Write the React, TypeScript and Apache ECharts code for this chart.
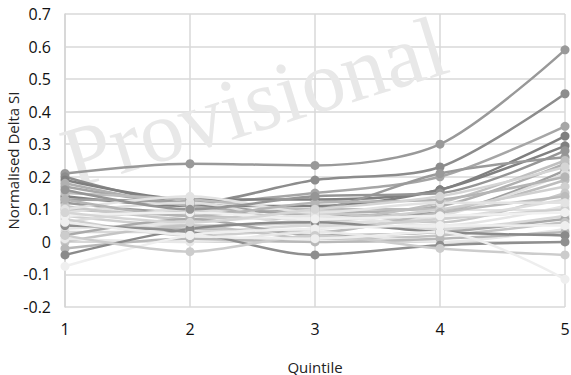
import React, { useEffect, useRef } from "react";
import * as echarts from "echarts";

const quintiles = ["1", "2", "3", "4", "5"];
const yTicks = { min: -0.2, max: 0.7, interval: 0.1 };

const s01 = [0.21, 0.24, 0.235, 0.30, 0.59];
const s02 = [0.20, 0.12, 0.19, 0.23, 0.455];
const s03 = [0.17, 0.12, 0.15, 0.20, 0.355];
const s04 = [0.19, 0.13, 0.13, 0.16, 0.325];
const s05 = [0.14, 0.11, 0.11, 0.16, 0.295];
const s06 = [0.12, 0.09, 0.10, 0.21, 0.26];
const s07 = [0.18, 0.11, 0.09, 0.11, 0.24];
const s08 = [0.13, 0.12, 0.08, 0.09, 0.22];
const s09 = [0.10, 0.08, 0.07, 0.12, 0.25];
const s10 = [0.15, 0.13, 0.10, 0.10, 0.19];
const s11 = [0.09, 0.12, 0.06, 0.08, 0.21];
const s12 = [0.08, 0.05, 0.06, 0.10, 0.17];
const s13 = [0.11, 0.07, 0.09, 0.06, 0.15];
const s14 = [0.06, 0.10, 0.05, 0.07, 0.13];
const s15 = [0.05, 0.04, 0.03, 0.09, 0.14];
const s16 = [0.04, 0.06, 0.08, 0.05, 0.11];
const s17 = [0.07, 0.02, 0.04, 0.07, 0.10];
const s18 = [0.03, 0.03, 0.05, 0.04, 0.08];
const s19 = [0.02, 0.07, 0.02, 0.03, 0.07];
const s20 = [0.00, 0.05, 0.01, 0.02, 0.06];
const s21 = [0.01, 0.00, 0.03, 0.00, 0.04];
const s22 = [-0.02, 0.01, 0.00, 0.01, 0.03];
const s23 = [-0.04, 0.04, 0.06, 0.03, 0.02];
const s24 = [0.05, 0.03, -0.04, -0.01, 0.00];
const s25 = [-0.075, 0.02, 0.04, 0.05, 0.05];
const s26 = [0.02, -0.03, 0.02, -0.02, -0.04];
const s27 = [0.06, 0.02, 0.01, 0.03, -0.115];
const s28 = [0.10, 0.14, 0.09, 0.12, 0.12];
const s29 = [0.13, 0.08, 0.12, 0.13, 0.20];
const s30 = [0.08, 0.09, 0.07, 0.08, 0.09];
const s31 = [0.16, 0.10, 0.14, 0.15, 0.28];
const s32 = [0.09, 0.06, 0.10, 0.14, 0.23];

const seriesData = [
  s01, s02, s03, s04, s05, s06, s07, s08, s09, s10, s11, s12, s13, s14, s15, s16,
  s17, s18, s19, s20, s21, s22, s23, s24, s25, s26, s27, s28, s29, s30, s31, s32,
];
const seriesColors = [
  "#999999", "#8c8c8c", "#a6a6a6", "#7f7f7f", "#808080", "#9a9a9a", "#b0b0b0", "#a0a0a0",
  "#c0c0c0", "#bdbdbd", "#e0e0e0", "#d0d0d0", "#c8c8c8", "#dcdcdc", "#bbbbbb", "#e5e5e5",
  "#cfcfcf", "#d8d8d8", "#aaaaaa", "#c4c4c4", "#e8e8e8", "#b8b8b8", "#8a8a8a", "#8f8f8f",
  "#efefef", "#cccccc", "#eeeeee", "#e3e3e3", "#b5b5b5", "#f0f0f0", "#959595", "#d5d5d5",
];

const FONT = "'Open Sans', 'Noto Sans', sans-serif";

export default function App() {
  const ref = useRef<HTMLDivElement>(null);
  useEffect(() => {
    if (!ref.current) return;
    const chart = echarts.init(ref.current, undefined, { renderer: "svg" });
    chart.setOption({
      animation: false,
      backgroundColor: "#ffffff",
      grid: { left: 65, right: 6, top: 14, bottom: 68, outerBoundsMode: "none", containLabel: false },
      graphic: [
        {
          type: "text",
          x: 254,
          y: 102,
          rotation: 0.3,
          z: 1,
          style: {
            text: "Provisional",
            font: "87px 'Liberation Serif', 'DejaVu Serif', serif",
            fill: "#e8e8e8",
            textAlign: "center",
            textVerticalAlign: "middle",
          },
        },
      ],
      xAxis: {
        type: "category",
        data: quintiles,
        boundaryGap: false,
        name: "Quintile",
        nameLocation: "middle",
        nameGap: 52,
        nameMoveOverlap: false,
        nameTextStyle: { fontFamily: FONT, fontSize: 15, color: "#222" },
        axisLine: { show: true, lineStyle: { color: "#d4d4d4", width: 1.5 } },
        axisTick: { show: false },
        axisLabel: { fontFamily: FONT, fontSize: 16, color: "#111", margin: 14 },
        splitLine: { show: true, lineStyle: { color: "#d9d9d9", width: 1.5 } },
      },
      yAxis: {
        type: "value",
        min: yTicks.min,
        max: yTicks.max,
        interval: yTicks.interval,
        name: "Normalised Delta SI",
        nameLocation: "middle",
        nameGap: 45,
        nameMoveOverlap: false,
        nameTextStyle: { fontFamily: FONT, fontSize: 15, color: "#222" },
        axisLine: { show: true, lineStyle: { color: "#d4d4d4", width: 1.5 } },
        axisTick: { show: false },
        axisLabel: {
          fontFamily: FONT,
          fontSize: 16,
          color: "#111",
          margin: 14,
          formatter: (v: number) => {
            const r = Math.round(v * 10) / 10;
            return r === 0 ? "0" : r.toFixed(1);
          },
        },
        splitLine: { show: true, lineStyle: { color: "#d9d9d9", width: 1.5 } },
      },
      series: seriesData.map((d, i) => ({
        type: "line",
        data: d,
        smooth: 0.3,
        symbol: "circle",
        symbolSize: 9,
        z: 3,
        lineStyle: { color: seriesColors[i], width: 2.5 },
        itemStyle: { color: seriesColors[i] },
      })),
    });
    return () => chart.dispose();
  }, []);
  return <div ref={ref} style={{ width: 571, height: 375, position: "absolute", left: 0, top: 0 }} />;
}
